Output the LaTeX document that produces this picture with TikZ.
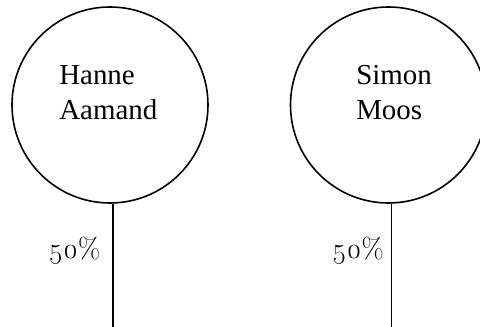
\documentclass[tikz,border=0pt]{standalone}
\usepackage{fontspec}
\setmainfont{Liberation Serif}
\newfontfamily\pctfont{Latin Modern Roman}[Numbers=OldStyle]
\begin{document}
\begin{tikzpicture}[x=0.75pt,y=-0.75pt,
  person/.style={draw,circle,line width=1.2pt,minimum size=147pt,inner sep=0pt},
  namelbl/.style={align=left,inner sep=0pt,anchor=base west,font=\fontsize{21.7}{26.25}\selectfont},
  pct/.style={inner sep=0pt,anchor=base west,font=\pctfont\fontsize{21.5}{24}\selectfont},
  tie/.style={line width=1.2pt}]
\useasboundingbox (0,0) rectangle (480,327);
\node[person] (p1) at (110,105) {};
\node[person] (p2) at (388.5,105) {};
\node[namelbl] (n1) at (59,119.3) {Hanne\\Aamand};
\node[namelbl] (n2) at (356,119.3) {Simon\\Moos};
\coordinate (e1) at (113.3,327);
\coordinate (e2) at (391.7,327);
\draw[tie] (p1.south -| e1) -- (e1);
\draw[tie] (p2.south -| e2) -- (e2);
\node[pct] (s1) at (48,258.5) {50\%};
\node[pct] (s2) at (331.5,258.5) {50\%};
\end{tikzpicture}
\end{document}
